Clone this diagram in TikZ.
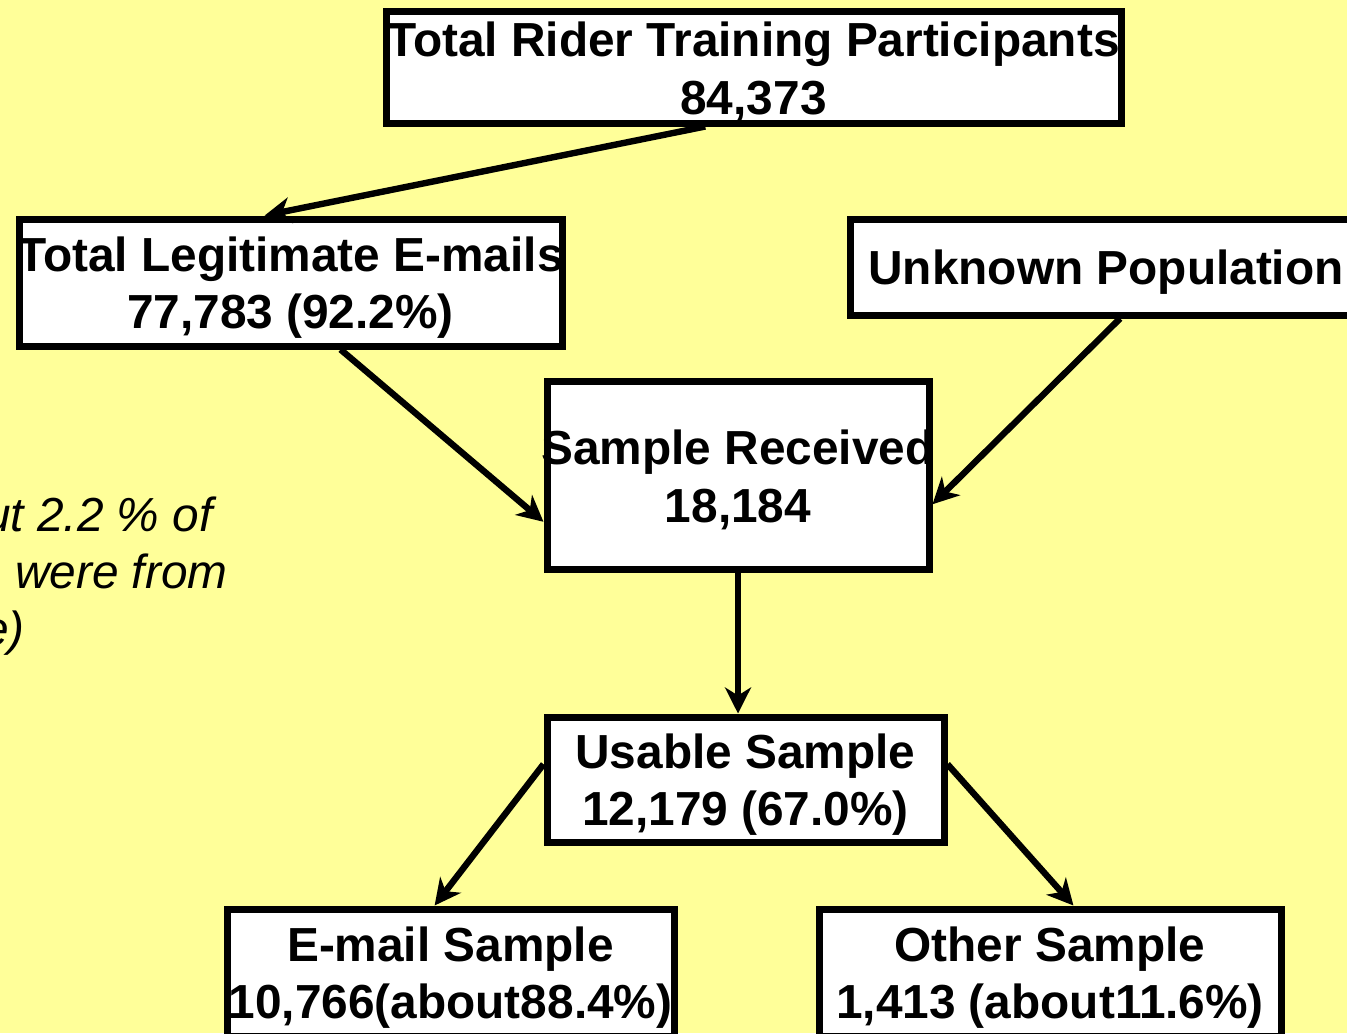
\documentclass[tikz,border=0pt]{standalone}
\usepackage{fontspec}
\setmainfont{Liberation Sans}
\usetikzlibrary{arrows.meta,calc}
\definecolor{slideyellow}{RGB}{255, 255, 153}
\newcommand{\boxline}[1]{\makebox[0pt]{\raisebox{-2.5pt}[\height][\depth]{#1}}}
\tikzset{
    flowbox/.style={draw=black, line width=3.5pt, fill=white, inner sep=0pt, align=center,
                    font=\fontsize{23.9}{28.7}\selectfont\bfseries},
    flowarrow/.style={line width=3.2pt, -{Stealth[length=13pt, width=13pt, inset=4pt]}},
    notetext/.style={anchor=base east, inner sep=0pt, font=\fontsize{23.9}{28.7}\selectfont\itshape}
}

\begin{document}
\begin{tikzpicture}[x=0.5pt, y=-0.5pt]
            % Background & frame
            \fill[slideyellow]                                                (0, 0) rectangle (1347, 1033);
            \useasboundingbox                                                 (0, 0) rectangle (1347, 1033);
            % Boxes
            \node[flowbox, minimum width=367.5pt, minimum height=56pt]   (total)   at ( 753.5,  67.0) {\boxline{Total Rider Training Participants}\\\boxline{84,373}};
            \node[flowbox, minimum width=271.5pt, minimum height=63.5pt] (legit)   at ( 290.5, 282.5) {\boxline{Total Legitimate E-mails}\\\boxline{77,783 (92.2\%)}};
            \node[flowbox, minimum width=256pt,   minimum height=48pt]   (unknown) at (1106.0, 267.0) {\boxline{Unknown Population}};
            \node[flowbox, minimum width=191pt,   minimum height=94pt]   (recv)    at ( 738.0, 475.0) {\boxline{Sample Received}\\\boxline{18,184}};
            \node[flowbox, minimum width=198.5pt, minimum height=62.5pt] (usable)  at ( 745.5, 779.5) {\boxline{Usable Sample}\\\boxline{12,179 (67.0\%)}};
            \node[flowbox, minimum width=223.5pt, minimum height=63.5pt] (email)   at ( 450.5, 972.5) {\boxline{E-mail Sample}\\\boxline{10,766(about88.4\%)}};
            \node[flowbox, minimum width=231pt,   minimum height=63.5pt] (other)   at (1050.0, 972.5) {\boxline{Other Sample}\\\boxline{1,413 (about11.6\%)}};
            % Side note (cut by the frame)
            \node[notetext] (note1) at (213, 531) {ut 2.2 \% of};
            \node[notetext] (note2) at (228, 588) {e were from};
            \node[notetext] (note3) at ( 25, 645) {e)};
            % Arrows
            \draw[flowarrow] ($(total.south west)!0.435!(total.south east)$)     -- ($(legit.north west)!0.453!(legit.north east)$);
            \draw[flowarrow] ($(legit.south west)!0.591!(legit.south east)$)     -- ($(recv.north west)!0.74!(recv.south west)$);
            \draw[flowarrow] ($(unknown.south west)!0.527!(unknown.south east)$) -- ($(recv.north east)!0.65!(recv.south east)$);
            \draw[flowarrow] (recv.south)                                         -- (recv.south |- usable.north);
            \draw[flowarrow] ($(usable.north west)!0.384!(usable.south west)$)   -- ($(email.north west)!0.465!(email.north east)$);
            \draw[flowarrow] ($(usable.north east)!0.384!(usable.south east)$)   -- ($(other.north west)!0.55!(other.north east)$);
\end{tikzpicture}
\end{document}
